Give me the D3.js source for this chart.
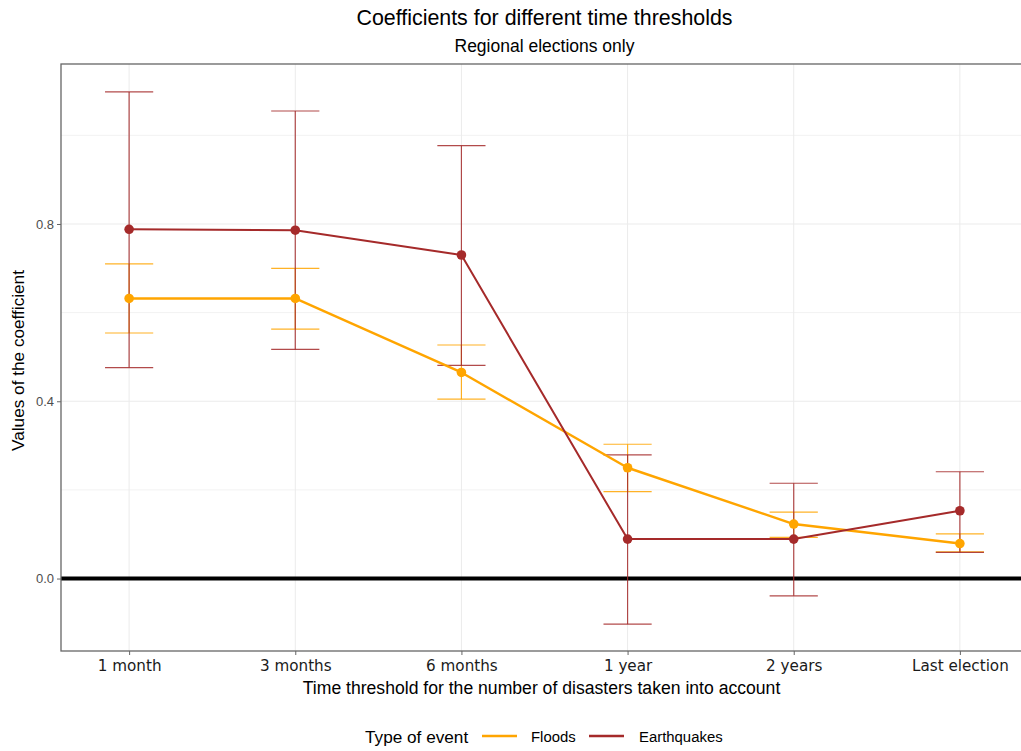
<!DOCTYPE html>
<html>
<head>
<meta charset="utf-8">
<script src="https://cdn.jsdelivr.net/npm/d3@7"></script>
<style>
  html, body { margin: 0; padding: 0; background: #fff; }
  svg { display: block; }
</style>
</head>
<body>
<svg id="chart" width="1021" height="751"></svg>
<script>
// Time thresholds on the x axis
const thresholds = ["1 month", "3 months", "6 months", "1 year", "2 years", "Last election"];

// Floods: coefficient estimate with lower / upper confidence bounds
const floodsEst   = [0.632, 0.632, 0.465, 0.250, 0.123, 0.079];
const floodsLow   = [0.554, 0.563, 0.405, 0.196, 0.093, 0.060];
const floodsHigh  = [0.710, 0.700, 0.527, 0.303, 0.150, 0.101];

// Earthquakes: coefficient estimate with lower / upper confidence bounds
const quakesEst   = [0.788, 0.786, 0.730, 0.089, 0.089, 0.153];
const quakesLow   = [0.476, 0.517, 0.481, -0.103, -0.039, 0.059];
const quakesHigh  = [1.098, 1.055, 0.977, 0.279, 0.215, 0.241];

const yTicks = [0.0, 0.4, 0.8];
const yMinorTicks = [0.2, 0.6, 1.0];

const seriesNames = ["Floods", "Earthquakes"];
const seriesColors = ["#FFA500", "#A52A2A"];

const series = [
  { name: seriesNames[0], color: seriesColors[0], est: floodsEst, low: floodsLow, high: floodsHigh },
  { name: seriesNames[1], color: seriesColors[1], est: quakesEst, low: quakesLow, high: quakesHigh }
];

const svg = d3.select("#chart");
const panel = { left: 61, right: 1028, top: 64, bottom: 651 };

const x = d3.scalePoint()
  .domain(thresholds)
  .range([panel.left, panel.right])
  .padding(0.41);

const y = d3.scaleLinear()
  .domain([-0.1635, 1.161])
  .range([panel.bottom, panel.top]);

const step = x.step();
const capHalf = step * 0.145;

// Grid lines
const grid = svg.append("g");
grid.selectAll("line.minor")
  .data(yMinorTicks).join("line")
  .attr("x1", panel.left).attr("x2", panel.right)
  .attr("y1", d => y(d)).attr("y2", d => y(d))
  .attr("stroke", "#f2f2f2").attr("stroke-width", 1);
grid.selectAll("line.major")
  .data(yTicks).join("line")
  .attr("x1", panel.left).attr("x2", panel.right)
  .attr("y1", d => y(d)).attr("y2", d => y(d))
  .attr("stroke", "#ebebeb").attr("stroke-width", 1);
grid.selectAll("line.vert")
  .data(thresholds).join("line")
  .attr("x1", d => x(d)).attr("x2", d => x(d))
  .attr("y1", panel.top).attr("y2", panel.bottom)
  .attr("stroke", "#ebebeb").attr("stroke-width", 1);

// Reference line at zero
svg.append("line")
  .attr("x1", panel.left).attr("x2", panel.right)
  .attr("y1", y(0)).attr("y2", y(0))
  .attr("stroke", "#000").attr("stroke-width", 4);

// Error bars for each series
series.forEach(s => {
  const g = svg.append("g");
  thresholds.forEach((t, i) => {
    const cx = x(t);
    g.append("line")
      .attr("x1", cx).attr("x2", cx)
      .attr("y1", y(s.low[i])).attr("y2", y(s.high[i]))
      .attr("stroke", s.color).attr("stroke-width", 1.2).attr("stroke-opacity", 0.85);
    [s.low[i], s.high[i]].forEach(v => {
      g.append("line")
        .attr("x1", cx - capHalf).attr("x2", cx + capHalf)
        .attr("y1", y(v)).attr("y2", y(v))
        .attr("stroke", s.color).attr("stroke-width", 1.2).attr("stroke-opacity", 0.85);
    });
  });
});

// Connecting lines and point estimates
series.forEach(s => {
  const line = d3.line()
    .x((d, i) => x(thresholds[i]))
    .y(d => y(d));
  svg.append("path")
    .datum(s.est)
    .attr("d", line)
    .attr("fill", "none")
    .attr("stroke", s.color)
    .attr("stroke-width", s.name === "Floods" ? 2.4 : 2)
    .attr("stroke-linejoin", "round");
  svg.append("g").selectAll("circle")
    .data(s.est).join("circle")
    .attr("cx", (d, i) => x(thresholds[i]))
    .attr("cy", d => y(d))
    .attr("r", 4.8)
    .attr("fill", s.color);
});

// Panel border
svg.append("rect")
  .attr("x", panel.left).attr("y", panel.top)
  .attr("width", panel.right - panel.left)
  .attr("height", panel.bottom - panel.top)
  .attr("fill", "none")
  .attr("stroke", "#666").attr("stroke-width", 1.3);

const sans = "'Liberation Sans', Arial, sans-serif";

// Y axis
const yAxis = svg.append("g")
  .attr("transform", `translate(${panel.left},0)`)
  .call(d3.axisLeft(y).tickValues(yTicks).tickFormat(d3.format(".1f")).tickSize(4).tickPadding(3));
yAxis.select(".domain").remove();
yAxis.selectAll(".tick line").attr("stroke", "#666");
yAxis.selectAll(".tick text")
  .attr("fill", "#4d4d4d")
  .style("font-family", sans)
  .style("font-size", "13px");

// X axis
const xAxis = svg.append("g")
  .attr("transform", `translate(0,${panel.bottom})`)
  .call(d3.axisBottom(x).tickSize(4).tickPadding(5));
xAxis.select(".domain").remove();
xAxis.selectAll(".tick line").attr("stroke", "#666");
xAxis.selectAll(".tick text")
  .attr("fill", "#1a1a1a")
  .style("font-family", "'DejaVu Sans', sans-serif")
  .style("font-size", "15.2px");

const centerX = (panel.left + panel.right) / 2;

// Titles
svg.append("text")
  .attr("x", centerX).attr("y", 25)
  .attr("text-anchor", "middle")
  .style("font-family", sans).style("font-size", "21.4px")
  .attr("fill", "#000")
  .text("Coefficients for different time thresholds");
svg.append("text")
  .attr("x", centerX).attr("y", 52)
  .attr("text-anchor", "middle")
  .style("font-family", sans).style("font-size", "17.5px")
  .attr("fill", "#000")
  .text("Regional elections only");

// Axis titles
svg.append("text")
  .attr("x", centerX - 3).attr("y", 694)
  .attr("text-anchor", "middle")
  .style("font-family", sans).style("font-size", "17.6px")
  .attr("fill", "#000")
  .text("Time threshold for the number of disasters taken into account");
svg.append("text")
  .attr("transform", `translate(24,${(panel.top + panel.bottom) / 2 + 3}) rotate(-90)`)
  .attr("text-anchor", "middle")
  .style("font-family", sans).style("font-size", "17.2px")
  .attr("fill", "#000")
  .text("Values of the coefficient");

// Legend
const legend = svg.append("g");
legend.append("text")
  .attr("x", 365).attr("y", 743)
  .style("font-family", sans).style("font-size", "17.2px")
  .attr("fill", "#000")
  .text("Type of event");
const keyX = [482, 589];
const labelX = [531, 639];
series.forEach((s, i) => {
  legend.append("line")
    .attr("x1", keyX[i]).attr("x2", keyX[i] + 35)
    .attr("y1", 736).attr("y2", 736)
    .attr("stroke", s.color).attr("stroke-width", 2.4);
  legend.append("text")
    .attr("x", labelX[i]).attr("y", 742)
    .style("font-family", sans).style("font-size", "14.9px")
    .attr("fill", "#000")
    .text(s.name);
});
</script>
</body>
</html>
